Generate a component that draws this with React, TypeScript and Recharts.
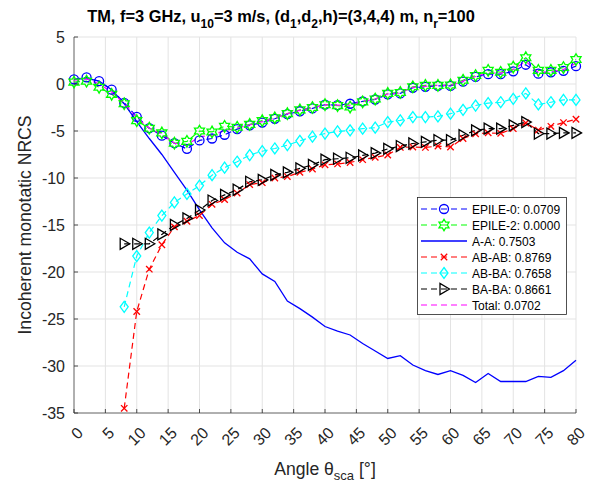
import React from "react"
import { LineChart, Line, XAxis, YAxis, CartesianGrid, Legend, Label } from "recharts"

const angles = [0, 2, 4, 6, 8, 10, 12, 14, 16, 18, 20, 22, 24, 26, 28, 30, 32, 34, 36, 38, 40, 42, 44, 46, 48, 50, 52, 54, 56, 58, 60, 62, 64, 66, 68, 70, 72, 74, 76, 78, 80]

const epile0 = [0.5, 0.7, 0.3, -0.6, -2.0, -3.5, -4.7, -5.5, -6.3, -6.9, -6.0, -5.8, -5.4, -4.8, -4.4, -4.1, -3.7, -3.2, -2.9, -2.6, -2.2, -2.25, -2.1, -1.85, -1.65, -1.1, -1.0, -0.4, -0.3, -0.2, -0.2, 0.25, 0.75, 1.05, 1.05, 1.35, 2.05, 1.1, 1.25, 1.4, 1.9]
const epile2 = [0.2, 0.3, -0.35, -1.1, -2.1, -3.9, -4.7, -5.2, -6.3, -6.1, -5.0, -5.1, -4.5, -4.6, -4.3, -3.9, -3.6, -3.15, -2.75, -2.5, -2.2, -2.3, -2.45, -1.9, -1.6, -1.0, -0.9, -0.3, -0.15, -0.15, -0.1, 0.4, 0.9, 1.45, 1.25, 1.8, 2.8, 1.45, 1.45, 1.75, 2.6]
const aa = [0.5, 0.6, 0.3, -0.6, -2.1, -4.0, -5.8, -7.5, -9.4, -11.3, -13.4, -15.3, -16.9, -17.9, -18.6, -20.2, -21.0, -23.1, -23.9, -24.8, -25.8, -26.3, -26.7, -27.6, -28.4, -29.2, -28.9, -29.9, -30.5, -30.9, -30.5, -31.0, -31.75, -30.8, -31.65, -31.65, -31.65, -31.1, -31.2, -30.5, -29.4]
const abab = [null, null, null, null, -34.5, -24.2, -19.7, -17.1, -15.2, -14.6, -14.0, -12.8, -12.3, -11.6, -10.7, -10.5, -10.0, -9.85, -9.4, -9.05, -8.6, -8.5, -8.35, -8.05, -7.8, -7.55, -6.75, -6.7, -6.75, -6.6, -6.7, -5.8, -5.3, -5.2, -5.25, -4.75, -4.15, -4.9, -4.5, -4.1, -3.75]
const abba = [null, null, null, null, -23.7, -18.3, -15.8, -14.0, -12.6, -11.7, -10.8, -9.7, -8.9, -8.27, -7.56, -7.15, -6.86, -6.5, -6.05, -5.6, -5.27, -5.05, -4.93, -4.75, -4.65, -4.05, -3.87, -3.52, -3.52, -3.45, -3.16, -2.75, -2.29, -2.04, -1.94, -1.58, -1.0, -2.18, -1.94, -1.69, -1.69]
const baba = [null, null, null, null, -17.0, -17.0, -17.0, -16.0, -15.0, -14.3, -13.4, -12.4, -11.8, -11.25, -10.4, -10.2, -9.67, -9.4, -8.97, -8.6, -8.05, -7.95, -7.85, -7.6, -7.35, -6.9, -6.6, -6.33, -6.16, -5.98, -5.98, -5.45, -4.93, -4.75, -4.75, -4.4, -4.05, -5.27, -5.27, -5.2, -5.2]
const total = [0.4, 0.55, 0.0, -0.85, -2.05, -3.6, -4.7, -5.35, -6.3, -6.5, -5.6, -5.45, -4.95, -4.7, -4.35, -4.0, -3.65, -3.15, -2.8, -2.55, -2.2, -2.25, -2.25, -1.85, -1.6, -1.05, -0.95, -0.35, -0.25, -0.15, -0.15, 0.3, 0.8, 1.2, 1.15, 1.55, 2.4, 1.25, 1.3, 1.55, 2.2]

const xTicks = [0, 5, 10, 15, 20, 25, 30, 35, 40, 45, 50, 55, 60, 65, 70, 75, 80]
const yTicks = [-35, -30, -25, -20, -15, -10, -5, 0, 5]

const legendLabels = ["EPILE-0: 0.0709", "EPILE-2: 0.0000", "A-A: 0.7503", "AB-AB: 0.8769", "AB-BA: 0.7658", "BA-BA: 0.8661", "Total: 0.0702"]

const FONT = "'Liberation Sans', Arial, Helvetica, sans-serif"
const AXIS_COLOR = "#262626"
const PLOT_LEFT = 74
const PLOT_BOTTOM = 413

type Marker = "circle" | "hexagram" | "none" | "x" | "diamond" | "triangle"

const series: { key: string; color: string; dash?: string; marker: Marker; width: number }[] = [
  { key: "epile0", color: "#0000ff", dash: "6 4", marker: "circle", width: 1.2 },
  { key: "epile2", color: "#00ff00", dash: "6 4", marker: "hexagram", width: 1.2 },
  { key: "aa", color: "#0000ff", marker: "none", width: 1.3 },
  { key: "abab", color: "#ff0000", dash: "6 4", marker: "x", width: 1.2 },
  { key: "abba", color: "#00ffff", dash: "6 4", marker: "diamond", width: 1.2 },
  { key: "baba", color: "#000000", dash: "6 4", marker: "triangle", width: 1.2 },
  { key: "total", color: "#ff00ff", dash: "6 4", marker: "none", width: 1.2 },
]

const data = angles.map((a, i) => ({
  angle: a,
  epile0: epile0[i],
  epile2: epile2[i],
  aa: aa[i],
  abab: abab[i],
  abba: abba[i],
  baba: baba[i],
  total: total[i],
}))

function drawMarker(type: Marker, cx: number, cy: number, color: string, key?: string) {
  const sw = 1.3
  if (type === "circle") {
    return <circle key={key} cx={cx} cy={cy} r={4.5} fill="none" stroke={color} strokeWidth={sw} />
  }
  if (type === "hexagram") {
    const R = 5.8
    const r = R * 0.577
    const pts = []
    for (let k = 0; k < 12; k++) {
      const ang = -Math.PI / 2 + (k * Math.PI) / 6
      const rad = k % 2 === 0 ? R : r
      pts.push(`${cx + rad * Math.cos(ang)},${cy + rad * Math.sin(ang)}`)
    }
    return <polygon key={key} points={pts.join(" ")} fill="none" stroke={color} strokeWidth={sw} />
  }
  if (type === "x") {
    const s = 3.2
    return (
      <g key={key} stroke={color} strokeWidth={sw}>
        <line x1={cx - s} y1={cy - s} x2={cx + s} y2={cy + s} />
        <line x1={cx - s} y1={cy + s} x2={cx + s} y2={cy - s} />
      </g>
    )
  }
  if (type === "diamond") {
    const pts = `${cx},${cy - 5.5} ${cx + 4},${cy} ${cx},${cy + 5.5} ${cx - 4},${cy}`
    return <polygon key={key} points={pts} fill="none" stroke={color} strokeWidth={sw} />
  }
  if (type === "triangle") {
    const pts = `${cx + 5.5},${cy} ${cx - 4},${cy - 5.5} ${cx - 4},${cy + 5.5}`
    return <polygon key={key} points={pts} fill="none" stroke={color} strokeWidth={sw} />
  }
  return <g key={key} />
}

const makeDot = (type: Marker, color: string) => (p: any) => {
  const key = `dot-${type}-${p.index}`
  if (p.cx == null || p.cy == null || p.value == null) return <g key={key} />
  return drawMarker(type, p.cx, p.cy, color, key)
}

const XTick = (props: any) => {
  const { x, payload } = props
  const ax = x + 10
  const ay = 434
  return (
    <g>
      <line x1={x} x2={x} y1={PLOT_BOTTOM} y2={PLOT_BOTTOM - 4} stroke={AXIS_COLOR} strokeWidth={0.8} />
      <text x={ax} y={ay} transform={`rotate(-45, ${ax}, ${ay})`} textAnchor="end" fontSize={16} fontFamily={FONT} fill={AXIS_COLOR}>
        {payload.value}
      </text>
    </g>
  )
}

const YTick = (props: any) => {
  const { y, payload } = props
  return (
    <g>
      <line x1={PLOT_LEFT} x2={PLOT_LEFT + 4} y1={y} y2={y} stroke={AXIS_COLOR} strokeWidth={0.8} />
      <text x={65} y={y + 6} textAnchor="end" fontSize={16} fontFamily={FONT} fill={AXIS_COLOR}>
        {payload.value}
      </text>
    </g>
  )
}

const renderXLabel = (props: any) => {
  const vb = props.viewBox || { x: 74, width: 502 }
  const cx = vb.x + vb.width / 2
  return (
    <text x={cx} y={475} textAnchor="middle" fontSize={17.6} fontFamily={FONT} fill={AXIS_COLOR}>
      Angle θ
      <tspan dy={5} fontSize={13}>sca</tspan>
      <tspan dy={-5}> [°]</tspan>
    </text>
  )
}

const renderYLabel = () => {
  const x = 31
  const y = 225
  return (
    <text x={x} y={y} transform={`rotate(-90, ${x}, ${y})`} textAnchor="middle" fontSize={17.6} fontFamily={FONT} fill={AXIS_COLOR}>
      Incoherent monotatic NRCS
    </text>
  )
}

const renderLegend = () => {
  const w = 150
  const h = 118
  return (
    <svg width={w} height={h} style={{ display: "block" }}>
      <rect x={0.5} y={0.5} width={w - 1} height={h - 1} fill="#ffffff" stroke={AXIS_COLOR} strokeWidth={0.8} />
      {series.map((s, i) => {
        const cy = 12 + i * 16
        return (
          <g key={s.key}>
            <line x1={4} x2={50} y1={cy} y2={cy} stroke={s.color} strokeWidth={s.width} strokeDasharray={s.dash} />
            {s.marker !== "none" && drawMarker(s.marker, 27, cy, s.color)}
            <text x={55} y={cy + 4.5} fontSize={12} fontFamily={FONT} fill="#000">
              {legendLabels[i]}
            </text>
          </g>
        )
      })}
    </svg>
  )
}

export default function App() {
  return (
    <div style={{ position: "absolute", left: 0, top: 0, width: 602, height: 487, background: "#fff" }}>
      <LineChart width={602} height={487} data={data} margin={{ top: 37, right: 26, left: 0, bottom: 0 }}>
        <CartesianGrid stroke="#e3e3e3" strokeWidth={1} />
        <XAxis
          dataKey="angle"
          type="number"
          domain={[0, 80]}
          ticks={xTicks}
          interval={0}
          height={74}
          axisLine={{ stroke: "#6e6e6e", strokeWidth: 1 }}
          tickLine={false}
          tick={<XTick />}
        >
          <Label content={renderXLabel} />
        </XAxis>
        <YAxis
          type="number"
          domain={[-35, 5]}
          ticks={yTicks}
          interval={0}
          width={74}
          axisLine={{ stroke: "#6e6e6e", strokeWidth: 1 }}
          tickLine={false}
          tick={<YTick />}
          allowDataOverflow
        >
          <Label content={renderYLabel} />
        </YAxis>
        {series.map((s) => (
          <Line
            key={s.key}
            dataKey={s.key}
            type="linear"
            stroke={s.color}
            strokeWidth={s.width}
            strokeDasharray={s.dash}
            dot={s.marker === "none" ? false : makeDot(s.marker, s.color)}
            activeDot={false}
            isAnimationActive={false}
            connectNulls={false}
          />
        ))}
        <Legend
          layout="vertical"
          align="center"
          verticalAlign="middle"
          content={renderLegend}
          wrapperStyle={{ position: "absolute", left: 417, top: 197, width: 150, height: 118 }}
        />
      </LineChart>
      <svg width={602} height={40} style={{ position: "absolute", left: 0, top: 0, pointerEvents: "none" }}>
        <text x={281} y={22} textAnchor="middle" fontSize={16.4} fontWeight="bold" fontFamily={FONT} fill="#000">
          TM, f=3 GHz, u<tspan dy={6} fontSize={12}>10</tspan>
          <tspan dy={-6}>=3 m/s, (d</tspan>
          <tspan dy={6} fontSize={12}>1</tspan>
          <tspan dy={-6}>,d</tspan>
          <tspan dy={6} fontSize={12}>2</tspan>
          <tspan dy={-6}>,h)=(3,4,4) m, n</tspan>
          <tspan dy={6} fontSize={12}>r</tspan>
          <tspan dy={-6}>=100</tspan>
        </text>
      </svg>
    </div>
  )
}
